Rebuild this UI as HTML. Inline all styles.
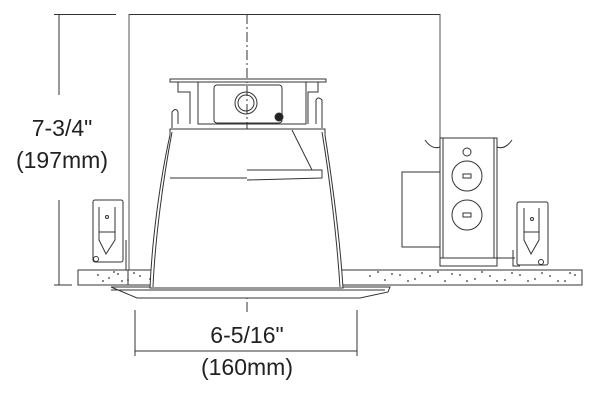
<!DOCTYPE html>
<html><head><meta charset="utf-8"><style>
body{margin:0;background:#fff}
svg{display:block}
text{font-family:"Liberation Sans",sans-serif;fill:#222}
</style></head><body>
<svg width="600" height="418" viewBox="0 0 600 418" xmlns="http://www.w3.org/2000/svg">
<g stroke="#333" fill="none" stroke-width="1">
<line x1="54" y1="14.5" x2="116" y2="14.5"/>
<line x1="129" y1="14.5" x2="440" y2="14.5"/>
<line x1="59" y1="14" x2="59" y2="95"/>
<line x1="59" y1="200" x2="59" y2="285"/>
<line x1="54" y1="285" x2="72" y2="285"/>
<line x1="129" y1="14" x2="129" y2="284" stroke="#555"/>
<line x1="440" y1="14" x2="440" y2="138" stroke="#555"/>
<line x1="135" y1="310" x2="135" y2="356"/>
<line x1="357" y1="310" x2="357" y2="356"/>
<line x1="135" y1="351" x2="357" y2="351"/>
<line x1="247" y1="14" x2="247" y2="315" stroke-dasharray="10,3,2,3"/>
<rect x="85" y="270" width="497" height="15" fill="#fff"/>
<rect x="78" y="270" width="50" height="15" fill="#fff"/>
<path d="M111 287 L390 287 L388 292 L360 298 L137 298 Z" fill="#fff"/>
<line x1="111" y1="290" x2="385" y2="290"/>
<path d="M170 129 L325 129 L325 135 C332 180 340 240 343 288 L150 288 C152 240 160 180 170 135 Z" fill="#fff"/>
<path d="M172 132 C163 180 155 240 153 287"/>
<path d="M322 132 C330 180 337 240 340 287"/>
<line x1="170" y1="178" x2="247" y2="178"/>
<path d="M247 170 L322 170 L322 178 L247 180"/>
<path d="M292 130 L312 170"/>
<rect x="170" y="79" width="156" height="3" fill="#fff"/>
<path d="M178 82 L178 92 L190 92 L190 124"/>
<path d="M198 82 L198 124 L306 124 L306 82"/>
<path d="M318 82 L318 92 L308 92 L308 124"/>
<path d="M172 128 L172 112 Q176 107 178 112 L178 124"/>
<path d="M322 128 L322 100 Q318 96 316 100 L316 124"/>
<rect x="214" y="85" width="68" height="38" rx="3"/>
<circle cx="246" cy="103" r="11"/>
<circle cx="246" cy="103" r="8"/>
<circle cx="279" cy="117" r="4" fill="#222"/>
<rect x="402" y="172" width="38" height="75" fill="#fff"/>
<rect x="440" y="138" width="57" height="128" fill="#fff"/>
<line x1="443" y1="138" x2="443" y2="258"/>
<line x1="494" y1="138" x2="494" y2="258"/>
<line x1="440" y1="258" x2="515" y2="258"/>
<circle cx="467" cy="176" r="15"/>
<circle cx="467" cy="215" r="15"/>
<rect x="463" y="174" width="8" height="4"/>
<rect x="463" y="213" width="8" height="4"/>
<circle cx="467" cy="152" r="4"/>
<path d="M425 140 Q432 150 440 147 M497 147 Q505 150 512 140"/>
<rect x="93" y="200" width="30" height="62" rx="2" fill="#fff"/>
<path d="M99 207 L99 232 L115 232 L115 207 M99 232 L99 240 L106 254 L115 240 L115 232"/>
<circle cx="107" cy="217" r="1.5"/>
<circle cx="96" cy="259" r="2.5"/>
<line x1="126" y1="240" x2="126" y2="270"/>
<rect x="517" y="202" width="31" height="63" rx="2" fill="#fff"/>
<path d="M524 208 L524 232 L539 232 L539 208 M524 232 L524 240 L531 254 L539 240 L539 232"/>
<circle cx="532" cy="219" r="1.5"/>
<circle cx="541" cy="262" r="2.5"/>
<path d="M513 250 L513 266 L520 266"/>
</g>
<g fill="#333">
<circle cx="98" cy="275" r=".9"/><circle cx="103" cy="281" r=".9"/><circle cx="109" cy="278" r=".9"/><circle cx="114" cy="272" r=".9"/><circle cx="118" cy="274" r=".9"/><circle cx="122" cy="281" r=".9"/><circle cx="128" cy="280" r=".9"/><circle cx="134" cy="273" r=".9"/><circle cx="140" cy="276" r=".9"/><circle cx="150" cy="279" r=".9"/>
<circle cx="370" cy="276" r=".9"/><circle cx="378" cy="272" r=".9"/><circle cx="385" cy="280" r=".9"/><circle cx="392" cy="274" r=".9"/><circle cx="400" cy="275" r=".9"/><circle cx="408" cy="281" r=".9"/><circle cx="415" cy="279" r=".9"/><circle cx="422" cy="273" r=".9"/><circle cx="430" cy="276" r=".9"/><circle cx="438" cy="272" r=".9"/><circle cx="445" cy="281" r=".9"/><circle cx="452" cy="274" r=".9"/><circle cx="460" cy="275" r=".9"/><circle cx="467" cy="281" r=".9"/><circle cx="475" cy="279" r=".9"/><circle cx="482" cy="272" r=".9"/><circle cx="490" cy="276" r=".9"/><circle cx="497" cy="281" r=".9"/><circle cx="505" cy="280" r=".9"/><circle cx="512" cy="273" r=".9"/><circle cx="520" cy="275" r=".9"/><circle cx="528" cy="281" r=".9"/><circle cx="535" cy="279" r=".9"/><circle cx="542" cy="273" r=".9"/><circle cx="550" cy="276" r=".9"/><circle cx="558" cy="281" r=".9"/><circle cx="565" cy="281" r=".9"/><circle cx="570" cy="273" r=".9"/><circle cx="575" cy="275" r=".9"/>
</g>
<text x="62" y="136" font-size="23" text-anchor="middle">7-3/4"</text>
<text x="62" y="168" font-size="23" text-anchor="middle">(197mm)</text>
<text x="247" y="343" font-size="23" text-anchor="middle">6-5/16"</text>
<text x="247" y="375" font-size="23" text-anchor="middle">(160mm)</text>
</svg>
</body></html>
